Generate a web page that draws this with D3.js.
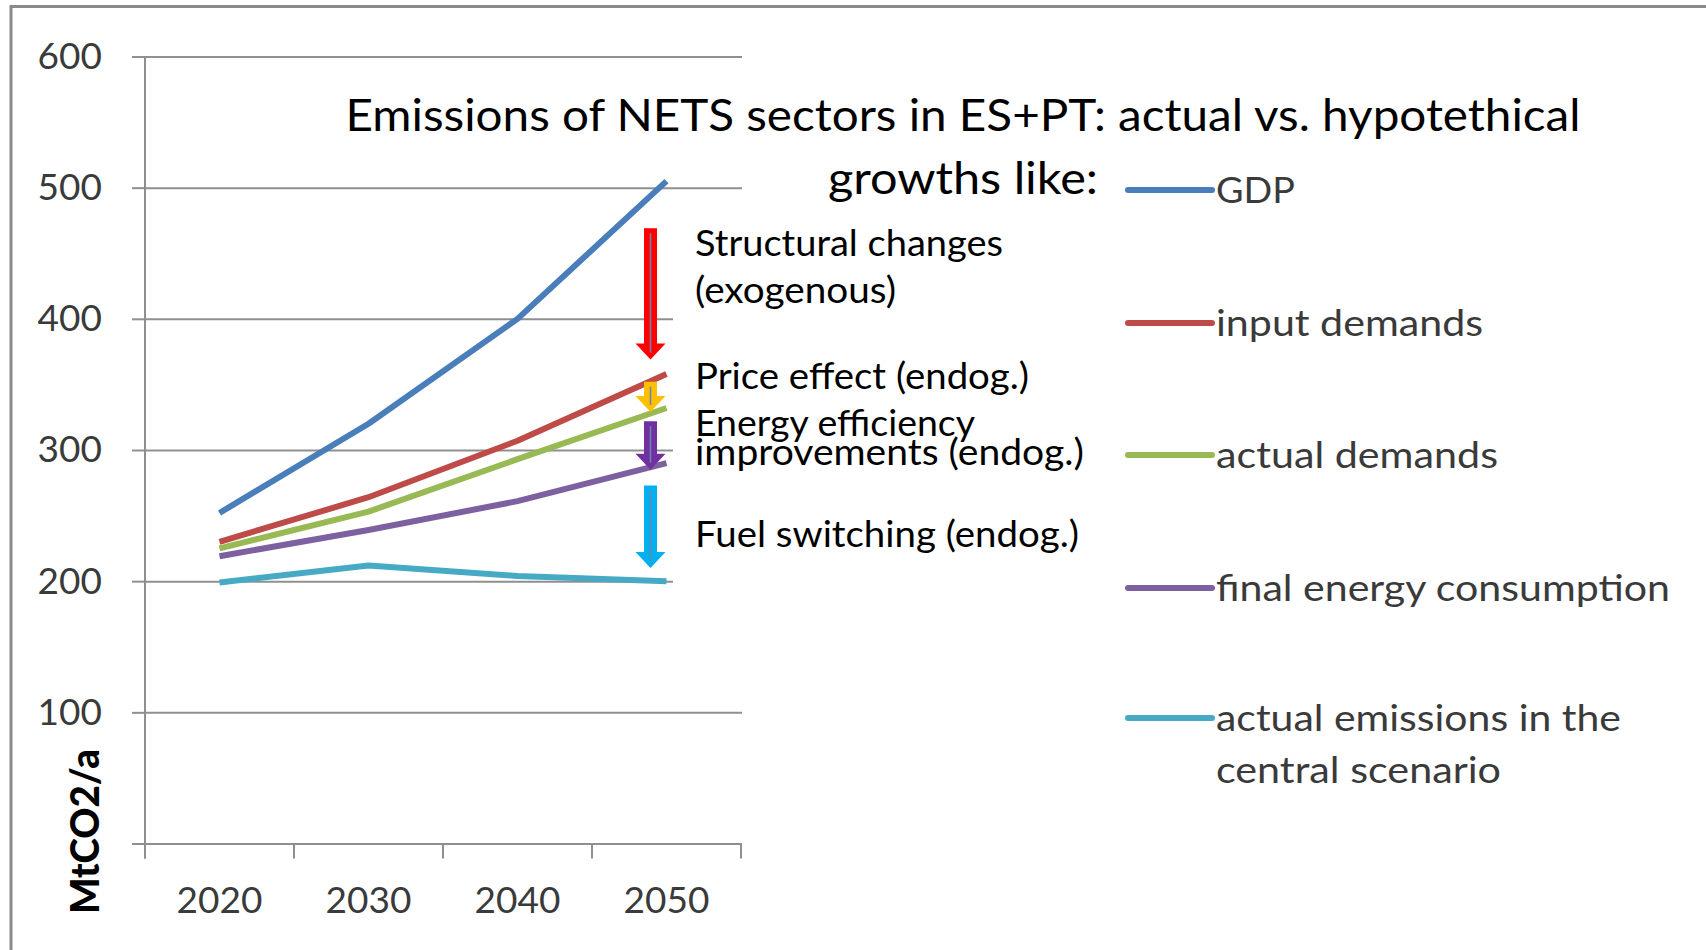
<!DOCTYPE html>
<html>
<head>
<meta charset="utf-8">
<script src="https://cdn.jsdelivr.net/npm/d3@7"></script>
<style>
  body { margin: 0; background: #fff; }
  svg { display: block; }
  text { font-family: Lato, "Open Sans", "DejaVu Sans", sans-serif; }
</style>
</head>
<body>
<svg id="chart" width="1706" height="950"></svg>
<script>
// ---- data ----
const years = ["2020", "2030", "2040", "2050"];
const seriesNames = ["GDP", "input demands", "actual demands", "final energy consumption", "actual emissions in the central scenario"];
const gdp = [252, 320, 400, 505];
const inputDemands = [230, 264, 307, 358];
const actualDemands = [225, 253, 293, 332];
const finalEnergy = [219, 239, 261, 290];
const actualEmissions = [199, 212, 204, 200];
const yTicks = [0, 100, 200, 300, 400, 500, 600];
const yTickLabels = ["", "100", "200", "300", "400", "500", "600"];

// decomposition of the gap at 2050, in MtCO2/a
const effectLabels = [["Structural changes", "(exogenous)"], ["Price effect (endog.)"], ["Energy efficiency", "improvements (endog.)"], ["Fuel switching (endog.)"]];
const effectFrom = [469, 352, 322, 273];
const effectTo = [369, 329, 285, 210];

const titleLines = ["Emissions of NETS sectors in ES+PT: actual vs. hypotethical", "growths like:"];
const axisTitle = "MtCO2/a";

// ---- styles ----
const seriesValues = [gdp, inputDemands, actualDemands, finalEnergy, actualEmissions];
const seriesColors = ["#4A7EBB", "#BE4B48", "#98B954", "#7D60A0", "#46AAC5"];
const effectColors = ["#FF0000", "#FFC000", "#7030A0", "#00B0F0"];
const gridColor = "#8f8f8f";

const svg = d3.select("#chart");

// outer frame
svg.append("rect")
  .attr("x", 11).attr("y", 6.5)
  .attr("width", 1760).attr("height", 1000)
  .attr("fill", "none").attr("stroke", "#8a8a8a").attr("stroke-width", 3);

// ---- scales ----
const plot = { left: 145, right: 741, top: 56.5, bottom: 843.5 };
const x = d3.scaleBand().domain(years).range([plot.left, plot.right]).padding(0);
const y = d3.scaleLinear().domain([0, 600]).range([plot.bottom, plot.top]);
const cx = d => x(d) + x.bandwidth() / 2;

// gridlines
const grid = svg.append("g").attr("transform", `translate(${plot.left},0)`)
  .call(d3.axisLeft(y).tickValues(yTicks).tickSize(-(plot.right - plot.left + 1)).tickFormat(""));
grid.select(".domain").remove();
grid.selectAll(".tick line").attr("stroke", gridColor).attr("stroke-width", 2);

// y axis with outside tick marks and labels
const yAxis = svg.append("g").attr("transform", `translate(${plot.left},0)`)
  .call(d3.axisLeft(y).tickValues(yTicks).tickSize(13).tickPadding(30)
    .tickFormat((d, i) => yTickLabels[i]));
yAxis.select(".domain").remove();
yAxis.selectAll(".tick line").attr("stroke", gridColor).attr("stroke-width", 2);
yAxis.selectAll(".tick text")
  .attr("font-size", 37).attr("fill", "#3a3a3a")
  .attr("font-family", "Lato, sans-serif");

// vertical axis line, extended down to the first category tick
svg.append("line")
  .attr("x1", plot.left).attr("x2", plot.left)
  .attr("y1", y(600)).attr("y2", plot.bottom + 15)
  .attr("stroke", gridColor).attr("stroke-width", 2);

// x axis: labels at category centres, tick marks at category boundaries
const xAxis = svg.append("g").attr("transform", `translate(0,${plot.bottom})`)
  .call(d3.axisBottom(x).tickSize(0).tickPadding(43));
xAxis.select(".domain").remove();
xAxis.selectAll(".tick text")
  .attr("font-size", 37).attr("fill", "#3a3a3a")
  .attr("font-family", "Lato, sans-serif");
const boundaries = years.map(d => x(d)).concat([x(years[years.length - 1]) + x.bandwidth()]);
svg.append("g").selectAll("line").data(boundaries).join("line")
  .attr("x1", d => d).attr("x2", d => d)
  .attr("y1", plot.bottom).attr("y2", plot.bottom + 15)
  .attr("stroke", gridColor).attr("stroke-width", 2);

// axis title
svg.append("text")
  .attr("transform", `translate(99,914) rotate(-90)`)
  .attr("font-size", 39).attr("font-weight", 900).attr("fill", "#000")
  .attr("textLength", 165).attr("lengthAdjust", "spacingAndGlyphs")
  .text(axisTitle);

// white text box of the annotation block
svg.append("rect")
  .attr("x", 673).attr("y", 208).attr("width", 430).attr("height", 388)
  .attr("fill", "#fff");

// ---- series lines ----
const line = d3.line()
  .x((v, i) => cx(years[i]))
  .y(v => y(v));

svg.append("g").selectAll("path").data(seriesValues).join("path")
  .attr("d", d => line(d))
  .attr("fill", "none")
  .attr("stroke", (d, i) => seriesColors[i])
  .attr("stroke-width", 6)
  .attr("stroke-linejoin", "round");

// ---- title ----
const titleX = 963;
svg.append("text")
  .attr("x", titleX).attr("y", 131).attr("text-anchor", "middle")
  .attr("font-size", 44).attr("fill", "#000")
  .attr("textLength", 1235).attr("lengthAdjust", "spacingAndGlyphs")
  .text(titleLines[0]);
svg.append("text")
  .attr("x", titleX).attr("y", 194).attr("text-anchor", "middle")
  .attr("font-size", 44).attr("fill", "#000")
  .attr("textLength", 270).attr("lengthAdjust", "spacingAndGlyphs")
  .text(titleLines[1]);

// ---- legend ----
const legendRowY = [190, 323, 455, 588, 718];
const legendWidths = [[79], [267], [282], [454], [405, 285]];
const legendWrapped = [["GDP"], ["input demands"], ["actual demands"], ["final energy consumption"], ["actual emissions in the", "central scenario"]];
const legend = svg.append("g");
seriesNames.forEach((name, i) => {
  const g = legend.append("g").attr("transform", `translate(0,${legendRowY[i]})`);
  g.append("line")
    .attr("x1", 1128).attr("x2", 1212).attr("y1", 0).attr("y2", 0)
    .attr("stroke", seriesColors[i]).attr("stroke-width", 6).attr("stroke-linecap", "round");
  legendWrapped[i].forEach((part, j) => {
    g.append("text")
      .attr("x", 1216).attr("y", 13 + j * 52)
      .attr("font-size", 37).attr("fill", "#3a3a3a")
      .attr("textLength", legendWidths[i][j]).attr("lengthAdjust", "spacingAndGlyphs")
      .text(part);
  });
});

// ---- decomposition arrows at 2050 ----
const arrowX = cx("2050") - 16;
const shaftHalf = 6.5, headHalf = 15, headLen = 16;
const arrows = svg.append("g");
effectFrom.forEach((from, i) => {
  const y0 = y(from), y1 = y(effectTo[i]);
  const p = d3.path();
  p.moveTo(arrowX - shaftHalf, y0);
  p.lineTo(arrowX + shaftHalf, y0);
  p.lineTo(arrowX + shaftHalf, y1 - headLen);
  p.lineTo(arrowX + headHalf, y1 - headLen);
  p.lineTo(arrowX, y1);
  p.lineTo(arrowX - headHalf, y1 - headLen);
  p.lineTo(arrowX - shaftHalf, y1 - headLen);
  p.closePath();
  arrows.append("path").attr("d", p.toString()).attr("fill", effectColors[i]);
  arrows.append("line")
    .attr("x1", arrowX).attr("x2", arrowX)
    .attr("y1", y0 + 5).attr("y2", y1 - 7)
    .attr("stroke", "#6a86b0").attr("stroke-width", 1.6);
});

// ---- annotation labels ----
const effectBaselines = [[256, 303], [389], [436, 465], [547]];
const effectWidths = [[308, 201], [334], [280, 389], [384]];
effectLabels.forEach((lines, i) => {
  lines.forEach((t, j) => {
    svg.append("text")
      .attr("x", 695).attr("y", effectBaselines[i][j])
      .attr("font-size", 36).attr("fill", "#000")
      .attr("textLength", effectWidths[i][j]).attr("lengthAdjust", "spacingAndGlyphs")
      .text(t);
  });
});
</script>
</body>
</html>
